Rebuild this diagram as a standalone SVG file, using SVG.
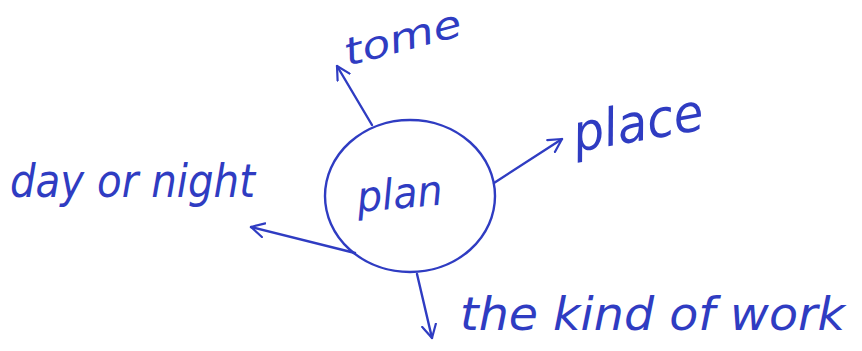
<svg xmlns="http://www.w3.org/2000/svg" width="862" height="351" viewBox="0 0 862 351">
<defs>
<style>
.ink{fill:none;stroke:#2f3cc2;stroke-width:2.4;stroke-linecap:round;stroke-linejoin:round}
.lbl{fill:#2f3cc2;font-family:"DejaVu Sans","Liberation Sans",sans-serif;font-style:italic}
</style>
<marker id="arr" viewBox="0 0 16 16" refX="14" refY="8" markerWidth="16" markerHeight="16" markerUnits="userSpaceOnUse" orient="auto">
<path d="M1,1 L14,8 L1,15" fill="none" stroke="#2f3cc2" stroke-width="2.2" stroke-linecap="round" stroke-linejoin="round"/>
</marker>
</defs>
<rect width="862" height="351" fill="#ffffff"/>
<g id="connectors">
<line class="ink" x1="372" y1="125" x2="337" y2="66" marker-end="url(#arr)"/>
<line class="ink" x1="494" y1="183" x2="562" y2="139" marker-end="url(#arr)"/>
<line class="ink" x1="355" y1="253" x2="251" y2="227" marker-end="url(#arr)"/>
<line class="ink" x1="417" y1="274" x2="432" y2="338" marker-end="url(#arr)"/>
</g>
<g id="node-plan">
<ellipse class="ink" cx="410" cy="196" rx="85" ry="76"/>
<text class="lbl" x="358" y="212" font-size="42" textLength="86" lengthAdjust="spacingAndGlyphs" transform="rotate(-5 358 212)">plan</text>
</g>
<g id="node-tome">
<text class="lbl" x="348" y="66" font-size="38" textLength="120" lengthAdjust="spacingAndGlyphs" transform="rotate(-15 348 66)">tome</text>
</g>
<g id="node-place">
<text class="lbl" x="576" y="152" font-size="52" textLength="132" lengthAdjust="spacingAndGlyphs" transform="rotate(-10 576 152)">place</text>
</g>
<g id="node-day-or-night">
<text class="lbl" x="10" y="197" font-size="46" textLength="245" lengthAdjust="spacingAndGlyphs">day or night</text>
</g>
<g id="node-kind-of-work">
<text class="lbl" x="460" y="330" font-size="46" textLength="385" lengthAdjust="spacingAndGlyphs">the kind of work</text>
</g>
</svg>
